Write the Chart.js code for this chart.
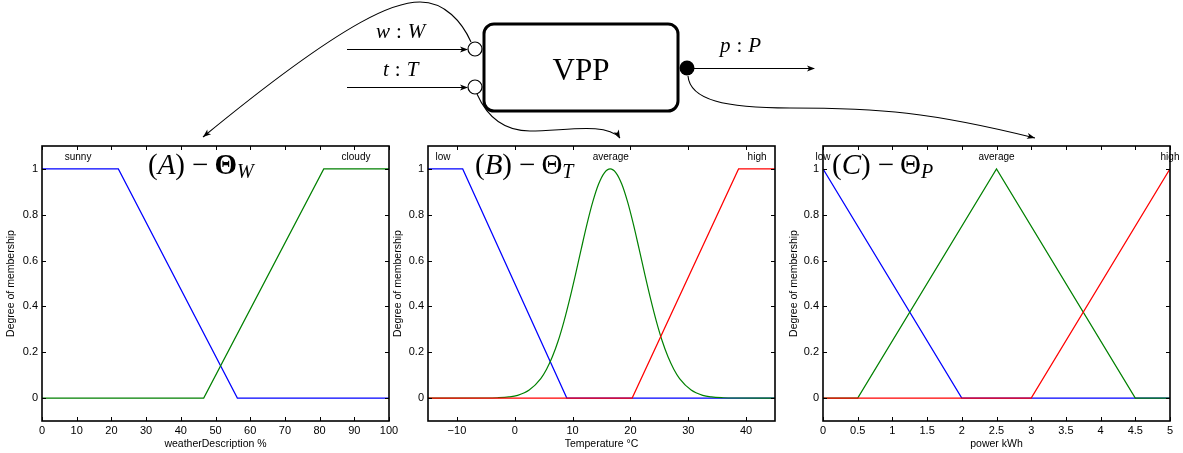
<!DOCTYPE html>
<html lang="en">
<head>
  <meta charset="UTF-8">
  <title>VPP fuzzy membership functions</title>
  <script src="https://cdn.jsdelivr.net/npm/chart.js"></script>
  <style>
    body { margin: 0; background: #fff; }
    #page { position: relative; width: 1183px; height: 453px; overflow: hidden; }
    .panel { position: absolute; top: 140px; }
    #diagram { position: absolute; left: 0; top: 0; pointer-events: none; }
  </style>
</head>
<body>
  <div id="page">
    <canvas id="chartA" class="panel" width="405" height="313" style="left:0px"></canvas>
    <canvas id="chartB" class="panel" width="392" height="313" style="left:390px"></canvas>
    <canvas id="chartC" class="panel" width="398" height="313" style="left:785px"></canvas>
    <canvas id="diagram" width="1183" height="453"></canvas>
  </div>

  <script>
    // shared y axis
    const yTicks = [0, 0.2, 0.4, 0.6, 0.8, 1];

    // (A) weather description %
    const weatherTicks = [0, 10, 20, 30, 40, 50, 60, 70, 80, 90, 100];
    const sunnyX = [0, 22, 56.3, 100];
    const sunnyY = [1, 1, 0, 0];
    const cloudyX = [0, 46.6, 81.2, 100];
    const cloudyY = [0, 0, 1, 1];
    const weatherTerms = ['sunny', 'cloudy'];
    const weatherTermX = [10.4, 90.5];

    // (B) temperature
    const tempTicks = [-10, 0, 10, 20, 30, 40];
    const tempLowX = [-15, -9, 9, 45];
    const tempLowY = [1, 1, 0, 0];
    const tempAvgX = [-15, -5, -3, -1, 0.5, 2.5, 4.5, 5.5, 6.5, 7.5, 8.5, 9.5, 10.5, 11.5, 12.5, 13.5, 14.5, 15.5, 16.5,
                      17.5, 18.5, 19.5, 20.5, 21.5, 22.5, 23.5, 24.5, 25.5, 26.5, 27.5, 28.5, 30.5, 32.5, 34, 36, 38, 45];
    const tempAvgY = [0, 0.0004, 0.0015, 0.005, 0.012, 0.035, 0.085, 0.126, 0.18, 0.249, 0.334, 0.432, 0.539, 0.651, 0.76, 0.857, 0.934, 0.983, 1,
                      0.983, 0.934, 0.857, 0.76, 0.651, 0.539, 0.432, 0.334, 0.249, 0.18, 0.126, 0.085, 0.035, 0.012, 0.005, 0.0015, 0.0004, 0];
    const tempHighX = [-15, 20.3, 38.7, 45];
    const tempHighY = [0, 0, 1, 1];
    const tempTerms = ['low', 'average', 'high'];
    const tempTermX = [-12.4, 16.6, 41.9];

    // (C) power kWh
    const powerTicks = [0, 0.5, 1, 1.5, 2, 2.5, 3, 3.5, 4, 4.5, 5];
    const powerLowX = [0, 2, 5];
    const powerLowY = [1, 0, 0];
    const powerAvgX = [0, 0.5, 2.5, 4.5, 5];
    const powerAvgY = [0, 0, 1, 0, 0];
    const powerHighX = [0, 3, 5];
    const powerHighY = [0, 0, 1];
    const powerTerms = ['low', 'average', 'high'];
    const powerTermX = [0, 2.5, 5];

    const BLUE = '#0000ff', GREEN = '#008000', RED = '#ff0000';
    const SANS = '"Liberation Sans", Arial, sans-serif';
    const SERIF = '"Liberation Serif", "Times New Roman", serif';

    const pts = (xs, ys) => xs.map((x, i) => ({ x: x, y: ys[i] }));
    const fmt = v => (v < 0 ? '\u2212' + Math.abs(v) : String(v));

    // draws text made of pieces with their own font (italic letters, subscripts)
    function drawMath(ctx, x, base, parts) {
      ctx.textAlign = 'left';
      ctx.textBaseline = 'alphabetic';
      parts.forEach(p => {
        x += p.gap || 0;
        ctx.font = p.f;
        ctx.fillText(p.t, x, base + (p.dy || 0));
        x += ctx.measureText(p.t).width;
      });
    }

    // matlab style box: inward ticks on all sides, term labels, panel title
    const matlabBox = {
      id: 'matlabBox',
      afterDatasetsDraw(chart, args, opts) {
        const { ctx, chartArea: a, scales: { x, y } } = chart;
        ctx.save();
        ctx.strokeStyle = '#000';
        ctx.lineWidth = 1;
        ctx.beginPath();
        x.ticks.forEach(t => {
          const px = Math.round(x.getPixelForValue(t.value)) + 0.5;
          ctx.moveTo(px, a.bottom); ctx.lineTo(px, a.bottom - 4);
          ctx.moveTo(px, a.top); ctx.lineTo(px, a.top + 4);
        });
        y.ticks.forEach(t => {
          const py = Math.round(y.getPixelForValue(t.value)) + 0.5;
          ctx.moveTo(a.left, py); ctx.lineTo(a.left + 4, py);
          ctx.moveTo(a.right, py); ctx.lineTo(a.right - 4, py);
        });
        ctx.stroke();
        ctx.lineWidth = 1.6;
        ctx.strokeRect(a.left, a.top, a.right - a.left, a.bottom - a.top);

        ctx.fillStyle = '#000';
        ctx.font = '10px ' + SANS;
        ctx.textAlign = 'center';
        ctx.textBaseline = 'middle';
        opts.terms.forEach((t, i) => {
          ctx.fillText(t, x.getPixelForValue(opts.termX[i]), y.getPixelForValue(1.05));
        });

        const big = '29px ' + SERIF;
        drawMath(ctx, a.left + opts.titleDx, a.top + 28, [
          { t: '(', f: big },
          { t: opts.letter, f: 'italic ' + big },
          { t: ')', f: big },
          { t: '\u2212', f: big, gap: 7 },
          { t: '\u0398', f: opts.bold + big, gap: 6 },
          { t: opts.sub, f: 'italic 20px ' + SERIF, dy: 4 }
        ]);
        ctx.restore();
      }
    };

    function makeChart(id, c) {
      return new Chart(document.getElementById(id), {
        type: 'scatter',
        data: {
          datasets: c.series.map(s => ({
            data: s.data,
            borderColor: s.color,
            borderWidth: 1.2,
            showLine: true,
            pointRadius: 0,
            fill: false,
            cubicInterpolationMode: s.smooth ? 'monotone' : 'default',
            tension: s.smooth ? 0.4 : 0,
            order: s.order
          }))
        },
        options: {
          responsive: false,
          animation: false,
          events: [],
          layout: { padding: { top: 6, right: c.right, left: 0, bottom: 0 } },
          plugins: {
            legend: { display: false },
            tooltip: { enabled: false },
            matlabBox: { terms: c.terms, termX: c.termX, letter: c.letter, sub: c.sub, titleDx: c.titleDx, bold: c.bold }
          },
          scales: {
            x: {
              type: 'linear',
              min: c.min,
              max: c.max,
              afterBuildTicks: s => { s.ticks = c.ticks.map(v => ({ value: v })); },
              afterFit: s => { s.height = 32; s.paddingLeft = 0; s.paddingRight = 0; },
              grid: { display: false, drawTicks: false },
              border: { display: false },
              ticks: { color: '#000', font: { family: SANS, size: 11 }, padding: 3, maxRotation: 0, autoSkip: false, callback: v => fmt(v) },
              title: { display: true, text: c.xTitle, color: '#000', font: { family: SANS, size: 10.5 }, padding: { top: 0, bottom: 3 } }
            },
            y: {
              type: 'linear',
              min: -0.1,
              max: 1.1,
              afterBuildTicks: s => { s.ticks = yTicks.map(v => ({ value: v })); },
              afterFit: s => { s.width = c.yWidth; s.paddingTop = 0; s.paddingBottom = 0; },
              grid: { display: false, drawTicks: false },
              border: { display: false },
              ticks: { color: '#000', font: { family: SANS, size: 11 }, padding: 4, autoSkip: false, callback: v => String(v) },
              title: { display: true, text: 'Degree of membership', color: '#000', font: { family: SANS, size: 10.5 }, padding: { top: c.yTitlePad, bottom: 0 } }
            }
          }
        },
        plugins: [matlabBox]
      });
    }

    makeChart('chartA', {
      min: 0, max: 100, ticks: weatherTicks, xTitle: 'weatherDescription %',
      right: 16, yWidth: 42, yTitlePad: 5,
      terms: weatherTerms, termX: weatherTermX, letter: 'A', sub: 'W', titleDx: 106, bold: 'bold ',
      series: [
        { data: pts(sunnyX, sunnyY), color: BLUE, order: 3 },
        { data: pts(cloudyX, cloudyY), color: GREEN, order: 2 }
      ]
    });

    makeChart('chartB', {
      min: -15, max: 45, ticks: tempTicks, xTitle: 'Temperature \u00b0C',
      right: 7, yWidth: 38, yTitlePad: 2,
      terms: tempTerms, termX: tempTermX, letter: 'B', sub: 'T', titleDx: 47, bold: '',
      series: [
        { data: pts(tempLowX, tempLowY), color: BLUE, order: 3 },
        { data: pts(tempAvgX, tempAvgY), color: GREEN, order: 2, smooth: true },
        { data: pts(tempHighX, tempHighY), color: RED, order: 1 }
      ]
    });

    makeChart('chartC', {
      min: 0, max: 5, ticks: powerTicks, xTitle: 'power kWh',
      right: 13, yWidth: 38, yTitlePad: 3,
      terms: powerTerms, termX: powerTermX, letter: 'C', sub: 'P', titleDx: 9, bold: '',
      series: [
        { data: pts(powerLowX, powerLowY), color: BLUE, order: 3 },
        { data: pts(powerAvgX, powerAvgY), color: GREEN, order: 2 },
        { data: pts(powerHighX, powerHighY), color: RED, order: 1 }
      ]
    });

    // VPP block diagram above the panels
    const d = document.getElementById('diagram').getContext('2d');
    d.strokeStyle = '#000';
    d.fillStyle = '#000';

    function arrowHead(tx, ty, fx, fy) {
      const ang = Math.atan2(ty - fy, tx - fx);
      d.save();
      d.translate(tx, ty);
      d.rotate(ang);
      d.beginPath();
      d.moveTo(0, 0);
      d.lineTo(-8, -3);
      d.lineTo(-6, 0);
      d.lineTo(-8, 3);
      d.closePath();
      d.fill();
      d.restore();
    }

    d.lineWidth = 1.1;
    // inputs
    [49, 87].forEach(yy => {
      d.beginPath(); d.moveTo(347, yy + 0.5); d.lineTo(467, yy + 0.5); d.stroke();
      arrowHead(468, yy + 0.5, 347, yy + 0.5);
    });
    // output
    d.beginPath(); d.moveTo(694, 68.5); d.lineTo(814, 68.5); d.stroke();
    arrowHead(815, 68.5, 694, 68.5);

    // curves to panels
    d.beginPath();
    d.moveTo(471, 42);
    d.bezierCurveTo(462, 22, 445, 2, 420, 2);
    d.bezierCurveTo(398, 2, 355, 12, 203, 137);
    d.stroke();
    arrowHead(203, 137, 355, 12);

    d.beginPath();
    d.moveTo(477, 94);
    d.bezierCurveTo(485, 112, 500, 131, 530, 131);
    d.bezierCurveTo(565, 131, 605, 122, 620, 138);
    d.stroke();
    arrowHead(620, 138, 614, 127);

    d.beginPath();
    d.moveTo(688, 76);
    d.bezierCurveTo(690, 100, 725, 108, 790, 108);
    d.bezierCurveTo(880, 108, 930, 112, 1035, 138);
    d.stroke();
    arrowHead(1035, 138, 990, 126);

    // VPP box
    d.lineWidth = 3;
    d.beginPath();
    d.roundRect(484, 24, 194, 87, 10);
    d.stroke();

    // ports
    d.lineWidth = 1.2;
    [49, 87].forEach(yy => {
      d.beginPath(); d.arc(475, yy, 7, 0, Math.PI * 2);
      d.fillStyle = '#fff'; d.fill(); d.stroke();
    });
    d.fillStyle = '#000';
    d.beginPath(); d.arc(687, 68, 7.5, 0, Math.PI * 2); d.fill();

    // labels
    const f21 = '21px ' + SERIF;
    const colonLabel = (x, base, a, b) => drawMath(d, x, base, [
      { t: a, f: 'italic ' + f21 },
      { t: ':', f: f21, gap: 6 },
      { t: b, f: 'italic ' + f21, gap: 6 }
    ]);
    colonLabel(376, 38, 'w', 'W');
    colonLabel(383, 76, 't', 'T');
    colonLabel(720, 52, 'p', 'P');
    d.font = '31px ' + SERIF;
    d.textAlign = 'center';
    d.textBaseline = 'alphabetic';
    d.fillText('VPP', 581, 80);
  </script>
</body>
</html>
